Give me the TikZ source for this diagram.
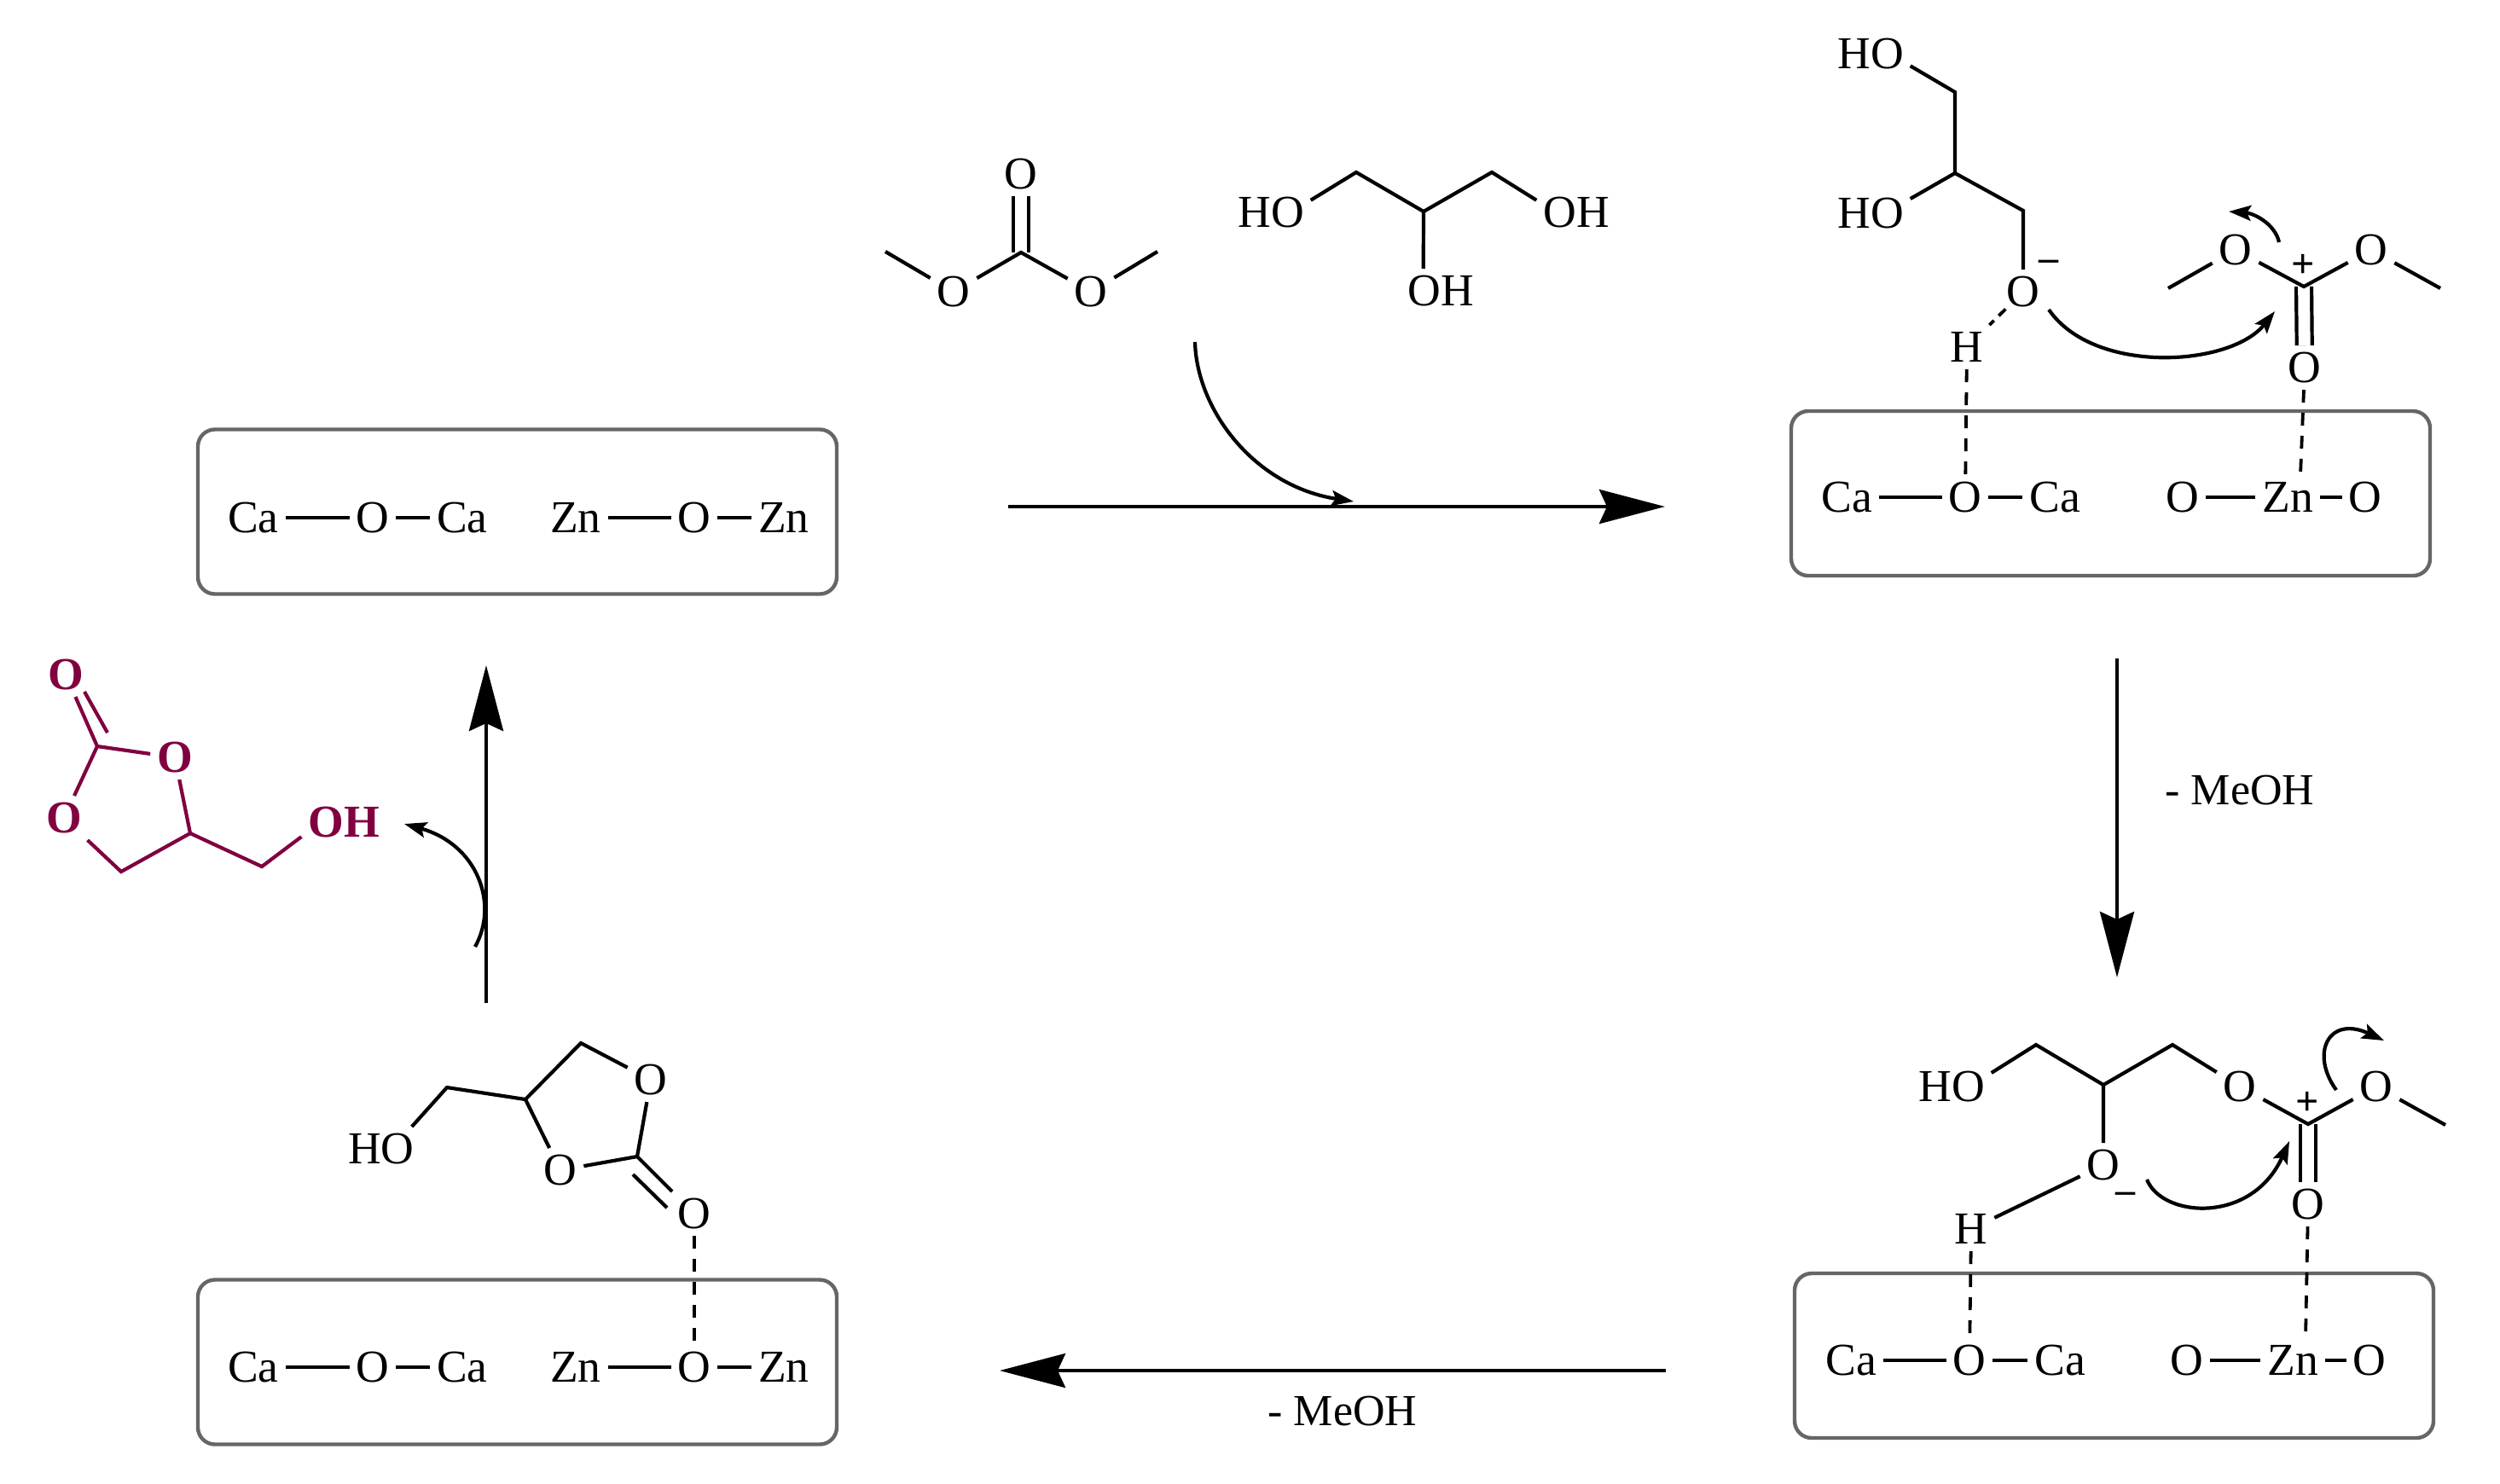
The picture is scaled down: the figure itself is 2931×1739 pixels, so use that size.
\documentclass[tikz,border=0pt]{standalone}
\usepackage{fontspec}
\setmainfont{Liberation Serif}
\usetikzlibrary{arrows.meta}
\definecolor{prodcol}{HTML}{800040}
\definecolor{boxcol}{HTML}{666666}
\tikzset{
  x=0.25pt,y=-0.25pt,
  atom/.style={inner sep=0pt,outer sep=2pt,text height=8.8pt,text depth=0.2pt,font=\fontsize{13.4}{15}\selectfont},
  patom/.style={atom,text=prodcol,font=\fontsize{13.4}{15}\selectfont\bfseries},
  caption/.style={inner sep=0pt,font=\fontsize{13}{15}\selectfont},
  bond/.style={draw=black,line width=1.05pt,line join=miter},
  pbond/.style={bond,draw=prodcol},
  dbond/.style={bond,double=white,double distance=3.45pt},
  hbond/.style={draw=black,line width=0.95pt,dash pattern=on 3.75pt off 3pt},
  hbshort/.style={hbond,dash pattern=on 2.8pt off 2pt},
  catbox/.style={draw=boxcol,line width=1.1pt,rounded corners=5pt,minimum width=187.25pt,minimum height=48.25pt,inner sep=0pt},
  bigarrow/.style={draw=black,line width=1.1pt,-{Stealth[length=19.25pt,width=10pt,inset=2.25pt]}},
  curly/.style={draw=black,line width=1.05pt,-{Stealth[length=6.5pt,width=4.5pt,inset=1.2pt]}},
  chg/.style={inner sep=0pt,font=\fontsize{11.5}{13}\selectfont\bfseries},
  pls/.style={inner sep=0pt,font=\fontsize{12}{12}\selectfont\bfseries},
}
\begin{document}
\begin{tikzpicture}
\path[use as bounding box,fill=white] (0,0) rectangle (2931,1739);

%% --- catalyst boxes
\node[catbox] (boxTL) at (606.5,600) {};
\node[catbox] (boxBL) at (606.5,1597) {};
\node[catbox] (boxTR) at (2474.5,578.5) {};
\node[catbox] (boxBR) at (2478.5,1589.5) {};

%% --- top-left surface
\node[atom] (tlCa1) at (297,607) {Ca};
\node[atom] (tlO1) at (437,607) {O};
\node[atom] (tlCa2) at (542,607) {Ca};
\node[atom] (tlZn1) at (675,607) {Zn};
\node[atom] (tlO2) at (814,607) {O};
\node[atom] (tlZn2) at (919,607) {Zn};
\draw[bond] (tlCa1)--(tlO1)--(tlCa2);
\draw[bond] (tlZn1)--(tlO2)--(tlZn2);

%% --- bottom-left surface
\node[atom] (blCa1) at (297,1603) {Ca};
\node[atom] (blO1) at (437,1603) {O};
\node[atom] (blCa2) at (542,1603) {Ca};
\node[atom] (blZn1) at (675,1603) {Zn};
\node[atom] (blO2) at (814,1603) {O};
\node[atom] (blZn2) at (919,1603) {Zn};
\draw[bond] (blCa1)--(blO1)--(blCa2);
\draw[bond] (blZn1)--(blO2)--(blZn2);

%% --- top-right surface
\node[atom] (trCa1) at (2165,583) {Ca};
\node[atom] (trO1) at (2304,583) {O};
\node[atom] (trCa2) at (2409,583) {Ca};
\node[atom] (trO2) at (2559,583) {O};
\node[atom] (trZn) at (2682,583) {Zn};
\node[atom] (trO3) at (2773,583) {O};
\draw[bond] (trCa1)--(trO1)--(trCa2);
\draw[bond] (trO2)--(trZn)--(trO3);

%% --- bottom-right surface
\node[atom] (brCa1) at (2170,1595) {Ca};
\node[atom] (brO1) at (2309,1595) {O};
\node[atom] (brCa2) at (2415,1595) {Ca};
\node[atom] (brO2) at (2564,1595) {O};
\node[atom] (brZn) at (2688,1595) {Zn};
\node[atom] (brO3) at (2778,1595) {O};
\draw[bond] (brCa1)--(brO1)--(brCa2);
\draw[bond] (brO2)--(brZn)--(brO3);

%% --- dimethyl carbonate (top centre)
\node[atom] (dO) at (1197,204) {O};
\coordinate (dC) at (1197,296);
\node[atom] (dOl) at (1118,342) {O};
\node[atom] (dOr) at (1279,342) {O};
\coordinate (dMl) at (1038,295);
\coordinate (dMr) at (1357,295);
\draw[dbond] (dC)--(dO);
\draw[bond] (dMl)--(dOl)--(dC)--(dOr)--(dMr);

%% --- glycerol (top centre)
\node[atom] (gHO) at (1490,249) {HO};
\coordinate (gC1) at (1590,202);
\coordinate (gC2) at (1669,248);
\coordinate (gC3) at (1749,202);
\node[atom] (gOH) at (1848,249) {OH};
\node[atom] (gOHb) at (1689,341) {OH};
\draw[bond] (gHO.17)--(gC1)--(gC2)--(gC3)--(gOH.163);
\draw[bond] (gC2)--(gOHb.128);

%% --- top-right adsorbed species
\node[atom] (aHOa) at (2193,63) {HO};
\node[atom] (aHOb) at (2193,250) {HO};
\coordinate (aC1) at (2292,108);
\coordinate (aC2) at (2292,203);
\coordinate (aC3) at (2372,247);
\node[atom] (aO) at (2372,342) {O};
\node[atom] (aH) at (2306,407) {H};
\node[chg] (aMin) at (2402,311) {–};
\draw[bond] (aHOa.-17)--(aC1)--(aC2)--(aC3)--(aO);
\draw[bond] (aHOb.20)--(aC2);
\draw[hbshort,shorten <=-2pt] (aO)--(aH);
\draw[hbond] (aH)--(trO1);
\node[atom] (eOl) at (2621,293) {O};
\node[atom] (eOr) at (2780,293) {O};
\coordinate (eC) at (2701,336);
\coordinate (eMl) at (2542,338);
\coordinate (eMr) at (2861,338);
\node[atom] (eOb) at (2702,431) {O};
\node[pls] (ePl) at (2700,312) {+};
\draw[dbond] (eC)--(eOb);
\draw[bond] (eMl)--(eOl)--(eC)--(eOr)--(eMr);
\draw[hbond] (eOb)--(trZn.60);
\coordinate (cvAs) at (2402,363);
\coordinate (cvAt) at (2667,365);
\draw[curly] (cvAs) .. controls (2455,440) and (2615,430) .. (cvAt);
\coordinate (cvBs) at (2672,284);
\coordinate (cvBt) at (2613,248);
\draw[curly] (cvBs) .. controls (2667,262) and (2642,250) .. (cvBt);

%% --- bottom-right adsorbed species
\node[atom] (bHO) at (2288,1274) {HO};
\coordinate (bC1) at (2387,1225);
\coordinate (bC2) at (2466,1272);
\coordinate (bC3) at (2547,1225);
\node[atom] (bO) at (2626,1274) {O};
\coordinate (bC) at (2706,1318);
\node[atom] (bOr) at (2786,1274) {O};
\coordinate (bMe) at (2867,1319);
\node[atom] (bOb) at (2706,1412) {O};
\node[atom] (bOm) at (2466,1366) {O};
\node[atom] (bH) at (2311,1441) {H};
\node[chg] (bMin) at (2492,1404) {–};
\node[pls] (bPl) at (2705,1294) {+};
\draw[dbond] (bC)--(bOb);
\draw[bond] (bHO.19)--(bC1)--(bC2)--(bC3)--(bO)--(bC)--(bOr)--(bMe);
\draw[bond] (bC2)--(bOm)--(bH);
\draw[hbond] (bH)--(brO1);
\draw[hbond] (bOb)--(brZn.60);
\coordinate (cvCs) at (2517,1383);
\coordinate (cvCt) at (2684,1338);
\draw[curly] (cvCs) .. controls (2535,1428) and (2640,1436) .. (cvCt);
\coordinate (cvDs) at (2739,1278);
\coordinate (cvDt) at (2795,1220);
\draw[curly] (cvDs) .. controls (2708,1235) and (2730,1190) .. (cvDt);

%% --- bottom-left adsorbed carbonate
\node[atom] (cHO) at (447,1347) {HO};
\coordinate (cCa) at (524,1275);
\coordinate (cCb) at (616,1289);
\coordinate (cCc) at (681,1223);
\node[atom] (cOa) at (763,1266) {O};
\coordinate (cC) at (747,1356);
\node[atom] (cOb) at (657,1372) {O};
\node[atom] (cOc) at (814,1423) {O};
\coordinate (cIa) at (742,1377);
\coordinate (cIb) at (782,1416);
\draw[bond] (cHO.36)--(cCa)--(cCb)--(cCc)--(cOa)--(cC)--(cOb)--(cCb);
\draw[bond] (cC)--(cOc);
\draw[bond] (cIa)--(cIb);
\draw[hbond] (cOc)--(blO2);

%% --- product (purple)
\node[patom] (pOt) at (77,791) {O};
\node[patom] (pOr) at (205,888) {O};
\node[patom] (pOl) at (75,959) {O};
\coordinate (pC) at (114,875);
\coordinate (pCm) at (223,977);
\coordinate (pCl) at (142,1022);
\coordinate (pCr) at (307,1016);
\node[patom] (pOH) at (403,964) {OH};
\coordinate (pIa) at (99,811);
\coordinate (pIb) at (126,859);
\draw[pbond] (pOt)--(pC)--(pOr)--(pCm)--(pCl)--(pOl)--(pC);
\draw[pbond] (pCm)--(pCr)--(pOH.-161);
\draw[pbond] (pIa)--(pIb);

%% --- reaction arrows
\coordinate (arAs) at (1182,594);
\coordinate (arAt) at (1952,594);
\draw[bigarrow] (arAs)--(arAt);
\coordinate (arBs) at (2482,772);
\coordinate (arBt) at (2482,1146);
\draw[bigarrow] (arBs)--(arBt);
\coordinate (arCs) at (1953,1607);
\coordinate (arCt) at (1172,1607);
\draw[bigarrow] (arCs)--(arCt);
\coordinate (arDs) at (570,1176);
\coordinate (arDt) at (570,780);
\draw[bigarrow] (arDs)--(arDt);
\coordinate (cvEs) at (557,1110);
\coordinate (cvEt) at (474,966);
\draw[curly] (cvEs) .. controls (585,1060) and (560,990) .. (cvEt);
\coordinate (cvFs) at (1401,401);
\coordinate (cvFt) at (1587,588);
\draw[curly] (cvFs) .. controls (1403,480) and (1470,570) .. (cvFt);

%% --- labels
\node[caption] (lbMeA) at (2626,927) {- MeOH};
\node[caption] (lbMeB) at (1574,1654) {- MeOH};
\end{tikzpicture}
\end{document}
